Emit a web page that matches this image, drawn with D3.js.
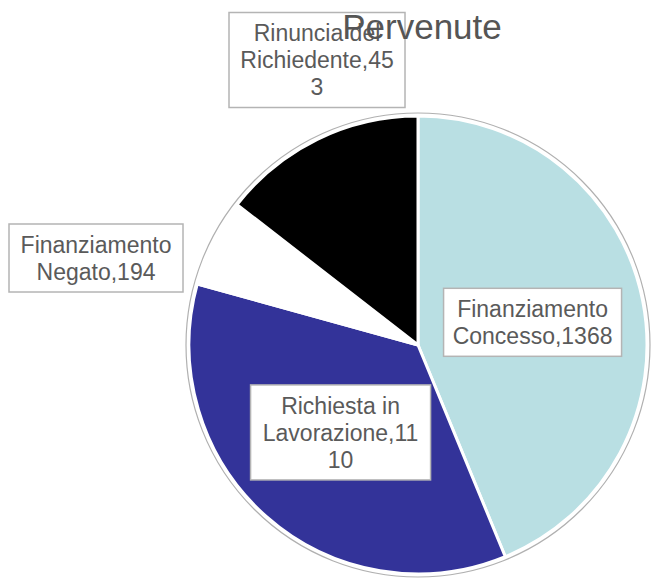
<!DOCTYPE html>
<html>
<head>
<meta charset="utf-8">
<script src="https://cdn.jsdelivr.net/npm/d3@7"></script>
<style>
  body { margin: 0; background: #fff; }
  text { font-family: "Liberation Sans", Arial, sans-serif; }
</style>
</head>
<body>
<script>
const width = 652, height = 580;
const title = 'Pervenute';

// data
const categories = ['Finanziamento Concesso', 'Richiesta in Lavorazione', 'Finanziamento Negato', 'Rinuncia del Richiedente'];
const values = [1368, 1110, 194, 453];
const labelLines = [
    ['Finanziamento', 'Concesso,1368'],
    ['Richiesta in', 'Lavorazione,11', '10'],
    ['Finanziamento', 'Negato,194'],
    ['Rinuncia del', 'Richiedente,45', '3']
];

// styles / layout
const colors = ['#b9dfe3', '#333399', '#ffffff', '#000000'];
const cx = 418, cy = 345, radius = 229;
const lineHeight = 27, fontSize = 23;
// outside labels get a box centre of their own, inside ones use the centroid
const outsideLabel = { 2: [96, 258], 3: [317, 60] };
const boxW = [178, 180, 174, 176];

const data = categories.map((c, i) => ({ name: c, value: values[i], lines: labelLines[i], i: i }));

const svg = d3.select('body')
    .append('svg')
    .attr('width', width)
    .attr('height', height);

const pie = d3.pie().sort(null).value(d => d.value);
const arc = d3.arc().innerRadius(0).outerRadius(radius);
const labelArc = d3.arc().innerRadius(0).outerRadius(radius * 1.02);

const g = svg.append('g').attr('transform', `translate(${cx},${cy})`);

// thin grey ring round the pie
g.append('circle')
    .attr('r', radius + 3)
    .attr('fill', 'none')
    .attr('stroke', '#b0b0b0')
    .attr('stroke-width', 1.2);

const arcs = pie(data);

g.selectAll('.slice')
    .data(arcs)
    .enter()
    .append('path')
    .attr('class', 'slice')
    .attr('d', arc)
    .attr('fill', d => colors[d.data.i])
    .attr('stroke', '#fff')
    .attr('stroke-width', 3);

// labels
const labels = svg.selectAll('.label')
    .data(arcs)
    .enter()
    .append('g')
    .attr('class', 'label')
    .attr('transform', d => {
        let p;
        if (outsideLabel[d.data.i]) p = outsideLabel[d.data.i];
        else {
            const c = labelArc.centroid(d);
            p = [c[0] + cx, c[1] + cy];
        }
        return `translate(${p[0]},${p[1]})`;
    });

labels.append('rect')
    .attr('x', d => -boxW[d.data.i] / 2)
    .attr('y', d => -(d.data.lines.length * lineHeight + 14) / 2)
    .attr('width', d => boxW[d.data.i])
    .attr('height', d => d.data.lines.length * lineHeight + 14)
    .attr('fill', '#fff')
    .attr('stroke', '#b4b4b4')
    .attr('stroke-width', 1.5);

labels.each(function (d) {
    const n = d.data.lines.length;
    d3.select(this).selectAll('text')
        .data(d.data.lines)
        .enter()
        .append('text')
        .attr('text-anchor', 'middle')
        .attr('x', 0)
        .attr('y', (l, j) => (j - (n - 1) / 2) * lineHeight + fontSize * 0.36)
        .style('font-size', fontSize + 'px')
        .style('fill', '#5a5a5a')
        .text(l => l);
});

// title
svg.append('text')
    .attr('x', 422)
    .attr('y', 39)
    .attr('text-anchor', 'middle')
    .style('font-size', '35px')
    .style('fill', '#555')
    .text(title);
</script>
</body>
</html>
